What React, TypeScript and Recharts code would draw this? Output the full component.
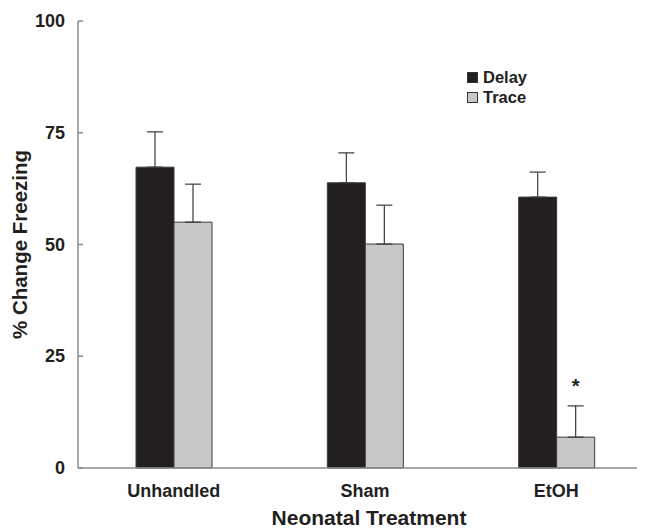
import { BarChart, Bar, XAxis, YAxis, ErrorBar, Legend, LabelList } from 'recharts';

const groups = ['Unhandled', 'Sham', 'EtOH'];
const delay = [67.3, 63.8, 60.6];
const delayErr = [7.9, 6.7, 5.6];
const trace = [55.0, 50.1, 6.9];
const traceErr = [8.5, 8.7, 7.0];
const marks = ['', '', '*'];
const yTicks = [0, 25, 50, 75, 100];

const data = groups.map((g, i) => ({
  group: g,
  delay: delay[i],
  delayErr: [0, delayErr[i]],
  trace: trace[i],
  traceErr: [0, traceErr[i]],
  mark: marks[i],
}));

const FONT = '"Liberation Sans", Arial, sans-serif';
const AXIS = '#8c8c8c';

function YTick(props: any) {
  const { x, y, payload } = props;
  return (
    <g>
      <line x1={x + 13} x2={x + 18} y1={y} y2={y} stroke={AXIS} strokeWidth={1.5} />
      <text x={x} y={y} dy={6} textAnchor="end" fontFamily={FONT} fontWeight="bold" fontSize={18} fill="#231f20">
        {payload.value}
      </text>
    </g>
  );
}

function Key() {
  const items = [
    { name: 'Delay', fill: '#231f20' },
    { name: 'Trace', fill: '#c7c8ca' },
  ];
  return (
    <div style={{ fontFamily: FONT, fontWeight: 'bold', fontSize: 16.5, color: '#231f20', lineHeight: '20px' }}>
      {items.map((it) => (
        <div key={it.name} style={{ display: 'flex', alignItems: 'center' }}>
          <span style={{ width: 9, height: 9, background: it.fill, border: '1px solid #333', marginRight: 5, display: 'inline-block' }} />
          {it.name}
        </div>
      ))}
    </div>
  );
}

function Star(props: any) {
  const { x, y, width, value } = props;
  if (!value) return null;
  return (
    <text x={x + width / 2} y={y - 44} textAnchor="middle" fontFamily={FONT} fontWeight="bold" fontSize={20} fill="#231f20">
      {value}
    </text>
  );
}

export default function App() {
  return (
    <div style={{ width: 637, height: 520, overflow: 'hidden' }}>
      <BarChart width={660} height={520} data={data} margin={{ top: 13, right: 16, bottom: 0, left: 0 }} barGap={0}>
        <XAxis
          dataKey="group"
          height={60}
          axisLine={{ stroke: AXIS, strokeWidth: 1.5 }}
          tickLine={false}
          tickSize={0}
          tickMargin={16}
          tick={{ fontFamily: FONT, fontWeight: 'bold', fontSize: 18, fill: '#231f20' }}
          label={{ value: 'Neonatal Treatment', position: 'insideBottom', offset: 3, dx: 4, fontFamily: FONT, fontWeight: 'bold', fontSize: 21, fill: '#231f20' }}
        />
        <YAxis
          width={70}
          domain={[0, 100]}
          ticks={yTicks}
          interval={0}
          axisLine={{ stroke: AXIS, strokeWidth: 1.5 }}
          tickLine={false}
          tickSize={0}
          tickMargin={13}
          tick={<YTick />}
          label={{ value: '% Change Freezing', angle: -90, position: 'insideLeft', offset: 12, fontFamily: FONT, fontWeight: 'bold', fontSize: 20.5, fill: '#231f20', style: { textAnchor: 'middle' } }}
        />
        <Legend
          layout="vertical"
          verticalAlign="middle"
          align="center"
          wrapperStyle={{ top: 59, left: 459, width: 100 }}
          content={<Key />}
        />
        <Bar dataKey="delay" name="Delay" barSize={38} fill="#231f20" stroke="#3a3a3a" strokeWidth={1} isAnimationActive={false}>
          <ErrorBar dataKey="delayErr" direction="y" width={8} stroke="#3a3a3a" strokeWidth={1.2} />
        </Bar>
        <Bar dataKey="trace" name="Trace" barSize={38} fill="#c7c8ca" stroke="#3a3a3a" strokeWidth={1} isAnimationActive={false}>
          <ErrorBar dataKey="traceErr" direction="y" width={8} stroke="#3a3a3a" strokeWidth={1.2} />
          <LabelList dataKey="mark" content={<Star />} />
        </Bar>
      </BarChart>
    </div>
  );
}
